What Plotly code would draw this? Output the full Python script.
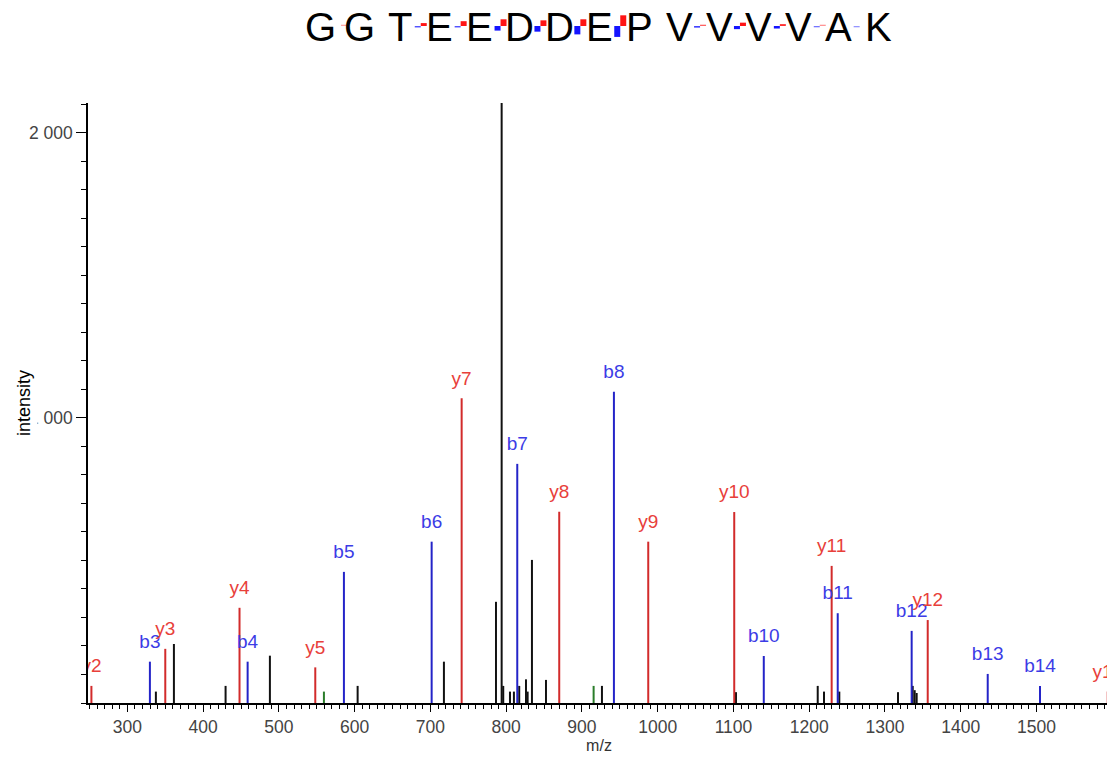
"""
Annotated MS/MS spectrum of GGTEEDDEPVVVVAK
"""

import plotly.graph_objs as go

# peptide sequence shown above the spectrum
residues = ["G", "G", "T", "E", "E", "D", "D", "E", "P", "V", "V", "V", "V", "A", "K"]

# b ions (blue)
b_labels = ["b3", "b4", "b5", "b6", "b7", "b8", "b10", "b11", "b12", "b13", "b14"]
b_mz = [329.7, 458.7, 585.8, 701.6, 814.6, 942.2, 1140.0, 1237.6, 1335.2, 1435.6, 1504.6]
b_int = [145, 145, 460, 566, 839, 1092, 165, 315, 253, 102, 60]

# y ions (red)
y_labels = ["y2", "y3", "y4", "y5", "y7", "y8", "y9", "y10", "y11", "y12", "y14"]
y_mz = [252.5, 350.0, 448.0, 548.0, 741.2, 870.0, 987.5, 1101.0, 1229.6, 1356.4, 1594.0]
y_int = [60, 190, 334, 125, 1069, 671, 566, 670, 481, 291, 40]

# unassigned peaks (black)
other_mz = [337.6, 361.4, 429.6, 488.1, 603.9, 717.8, 786.5, 794.0, 796.1, 805.0,
            810.2, 817.2, 826.1, 828.3, 834.0, 852.5, 926.4, 1103.3, 1211.2, 1219.5,
            1239.7, 1317.2, 1336.6, 1339.2, 1341.8]
other_int = [40, 207, 60, 166, 60, 145, 355, 2105, 60, 40,
             40, 60, 83, 40, 502, 81, 60, 38, 60, 40,
             40, 38, 60, 45, 35]

# precursor-related peaks (green)
green_mz = [559.4, 915.4]
green_int = [40, 60]

RED_LINE, RED_TEXT = "#d22b2b", "#e8403a"
BLUE_LINE, BLUE_TEXT = "#2424c8", "#3c3ce6"
FONT = "Liberation Sans"

X_RANGE = [248, 1597]
Y_RANGE = [0, 2105]
# plot area in page pixels; the page body adds an 8 px offset
OFF = 8
PLOT_L, PLOT_R, PLOT_T, PLOT_B = 88, 1110, 103, 703
W, H = 1115 - OFF, 759 - OFF


def stems(mz, inten):
    xs, ys = [], []
    for m, i in zip(mz, inten):
        xs += [m, m, None]
        ys += [0, i, None]
    return xs, ys


def px_x(px):
    return (px - PLOT_L) / (PLOT_R - PLOT_L)


def px_y(py):
    return (PLOT_B - py) / (PLOT_B - PLOT_T)


fig = go.Figure()

for mz, inten, color, width in [(other_mz, other_int, "#111111", 2),
                                (green_mz, green_int, "#2a7d2a", 2),
                                (b_mz, b_int, BLUE_LINE, 2),
                                (y_mz, y_int, RED_LINE, 2)]:
    xs, ys = stems(mz, inten)
    fig.add_trace(go.Scatter(x=xs, y=ys, mode="lines", showlegend=False,
                             line=dict(color=color, width=width), hoverinfo="skip"))

# ion labels, a few pixels above each peak (clipped at the plot edges)
lift = 9 * (Y_RANGE[1] - Y_RANGE[0]) / (PLOT_B - PLOT_T)
for mz, inten, labels, color in [(b_mz, b_int, b_labels, BLUE_TEXT),
                                 (y_mz, y_int, y_labels, RED_TEXT)]:
    fig.add_trace(go.Scatter(x=mz, y=[i + lift for i in inten], text=labels,
                             mode="text", textposition="top center", cliponaxis=True,
                             textfont=dict(family=FONT, size=19, color=color),
                             showlegend=False, hoverinfo="skip"))

# sequence with fragment coverage marks
n = len(residues)
x0_px, step_px = 320, 39.9
for k, aa in enumerate(residues):
    fig.add_annotation(x=px_x(x0_px + k * step_px), y=px_y(27), xref="paper", yref="paper",
                       text=aa, showarrow=False, xanchor="center", yanchor="middle",
                       font=dict(family=FONT, size=40, color="black"))

b_gap = {int(l[1:]): v for l, v in zip(b_labels, b_int)}
y_gap = {n - int(l[1:]): v for l, v in zip(y_labels, y_int)}
base_py = 26
for gap in range(1, n):
    mid = x0_px + (gap - 0.5) * step_px
    for val, color, left, right, sign in [(b_gap.get(gap), "#1414ff", mid - 5, mid + 1, 1),
                                          (y_gap.get(gap), "#ff1414", mid + 1, mid + 7, -1)]:
        if not val:
            continue
        h = max(1.3, 11 * val / 1100)
        fig.add_shape(type="rect", xref="paper", yref="paper",
                      x0=px_x(left), x1=px_x(right),
                      y0=px_y(base_py), y1=px_y(base_py + sign * h),
                      line=dict(width=0), fillcolor=color,
                      opacity=min(1.0, 0.25 + val / 300))

fig.add_annotation(x=px_x(24), y=0.5, xref="paper", yref="paper", text="intensity",
                   textangle=-90, showarrow=False, xanchor="center", yanchor="middle",
                   bgcolor="white", borderpad=3,
                   font=dict(family=FONT, size=18, color="black"))

fig.update_layout(
    width=W, height=H,
    margin=dict(l=PLOT_L - OFF, r=W - (PLOT_R - OFF), t=PLOT_T - OFF, b=H - (PLOT_B - OFF)),
    plot_bgcolor="white", paper_bgcolor="white",
    separators=". ",
    font=dict(family=FONT, size=17, color="#444444"),
)
fig.update_xaxes(range=X_RANGE, showgrid=False, zeroline=False, showline=True,
                 linecolor="black", linewidth=1.5, ticks="outside", ticklen=7,
                 tickcolor="black", tick0=0, dtick=100,
                 minor=dict(ticks="outside", ticklen=4, dtick=10, tickcolor="black"),
                 tickfont=dict(family=FONT, size=17.5, color="#444444"),
                 title=dict(text="m/z", standoff=2, font=dict(family=FONT, size=16, color="#333333")))
fig.update_yaxes(range=Y_RANGE, showgrid=False, zeroline=False, showline=True,
                 linecolor="black", linewidth=1.5, ticks="outside", ticklen=10,
                 tickcolor="black", tickvals=[1000, 2000], separatethousands=True,
                 minor=dict(ticks="outside", ticklen=5, tick0=0, dtick=100, tickcolor="black"),
                 tickfont=dict(family=FONT, size=17.5, color="#444444"))

fig.write_html("out.html")
